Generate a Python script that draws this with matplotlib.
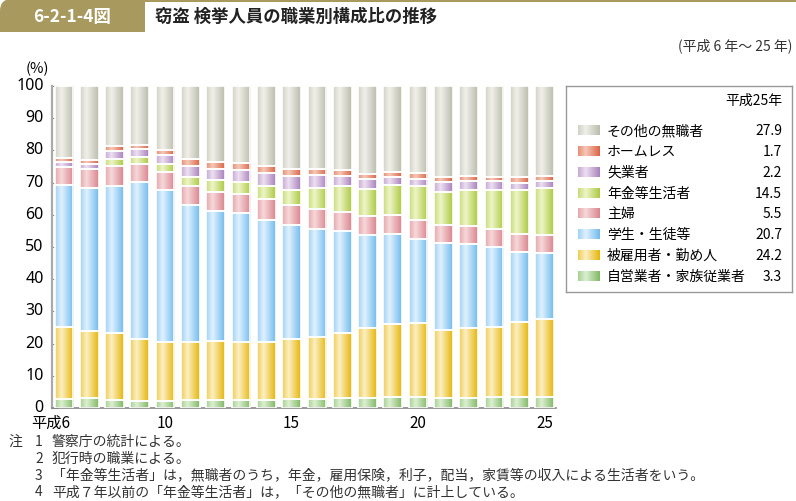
import numpy as np
import matplotlib
matplotlib.use("Agg")
import matplotlib.pyplot as plt
import matplotlib.transforms as mtransforms
from matplotlib.patches import FancyBboxPatch, Rectangle
from matplotlib.colors import to_rgb

plt.rcParams['font.family'] = ['Noto Sans CJK JP', 'DejaVu Sans']

years = list(range(6, 26))
series_names = ["自営業者・家族従業者", "被雇用者・勤め人", "学生・生徒等", "主婦",
                "年金等生活者", "失業者", "ホームレス", "その他の無職者"]
self_employed = [2.9, 3.2, 2.6, 2.3, 2.3, 2.5, 2.6, 2.6, 2.6, 2.7, 2.9, 3.1, 3.1, 3.3, 3.4, 3.2, 3.2, 3.4, 3.3, 3.3]
employed = [22.3, 20.7, 20.7, 19.2, 18.2, 18.0, 18.1, 17.9, 17.9, 18.8, 19.1, 20.1, 21.8, 22.8, 23.1, 21.1, 21.6, 21.8, 23.4, 24.2]
students = [44.2, 44.4, 45.7, 48.6, 47.3, 42.6, 40.4, 40.1, 37.9, 35.3, 33.5, 31.7, 28.7, 27.8, 25.9, 26.8, 26.1, 24.8, 21.7, 20.7]
housewives = [5.4, 5.8, 6.2, 5.7, 5.5, 5.8, 6.1, 6.0, 6.5, 6.2, 6.2, 6.1, 6.0, 5.9, 5.9, 5.6, 5.7, 5.7, 5.7, 5.5]
pension = [0.0, 0.0, 2.2, 2.1, 2.5, 2.7, 3.5, 3.7, 4.0, 4.8, 6.6, 7.9, 8.5, 9.5, 10.6, 10.4, 11.1, 12.0, 13.6, 14.5]
unemployed = [1.7, 1.7, 2.5, 2.5, 2.8, 3.6, 3.5, 3.6, 4.0, 4.1, 4.0, 3.1, 2.9, 2.3, 2.3, 3.0, 2.9, 2.9, 2.3, 2.2]
homeless = [1.1, 1.2, 1.4, 1.4, 1.6, 2.0, 2.2, 2.1, 2.2, 2.4, 2.0, 2.0, 1.8, 1.8, 1.8, 1.7, 1.6, 1.2, 1.6, 1.7]
other = [22.4, 23.0, 18.7, 18.2, 19.8, 22.8, 23.6, 24.0, 24.9, 25.7, 25.7, 26.0, 27.2, 26.6, 27.0, 28.2, 27.8, 28.2, 28.4, 27.9]
legend_values = ["3.3", "24.2", "20.7", "5.5", "14.5", "2.2", "1.7", "27.9"]
xtick_vals = [6, 10, 15, 20, 25]
xtick_labels = ["平成6", "10", "15", "20", "25"]

series = [self_employed, employed, students, housewives, pension, unemployed, homeless, other]
dark = ["#7cb65e", "#e4b300", "#6db8ec", "#d8808a", "#a9c73a", "#a67cb9", "#d9603f", "#b8baa9"]
light = ["#dcefd2", "#fcefc2", "#e0f1ff", "#f6d8da", "#eef5c8", "#ece0f1", "#f5c8b8", "#f0f0ea"]

W, H = 796, 502
fig = plt.figure(figsize=(W / 100, H / 100), dpi=100)

def grad_img(c0, c1, n=64):
    t = np.linspace(0, 1, n)
    f = np.where(t < 0.35, 0.45 + 0.55 * (t / 0.35), 1 - (t - 0.35) / 0.65 * 0.95)
    a = np.array(to_rgb(c0)); b = np.array(to_rgb(c1))
    img = a[None, :] + (b - a)[None, :] * f[:, None]
    return img[None, :, :]

# main axes
ax = fig.add_axes([52 / W, (H - 409) / H, 504 / W, 322 / H])
bottom = np.zeros(len(years))
for vals, c0, c1 in zip(series, dark, light):
    vals = np.array(vals)
    bars = ax.bar(years, vals, bottom=bottom, width=0.74, facecolor='none',
                  edgecolor='white', linewidth=1.2, zorder=3)
    img = grad_img(c0, c1)
    for p in bars:
        if p.get_height() <= 0:
            continue
        x0, y0 = p.get_x(), p.get_y()
        ax.imshow(img, extent=[x0, x0 + p.get_width(), y0, y0 + p.get_height()],
                  aspect='auto', zorder=2, interpolation='bilinear')
    bottom += vals

ax.set_xlim(5.53, 25.45)
ax.set_ylim(0, 100)
ax.set_yticks(range(0, 101, 10))
ax.set_xticks(xtick_vals)
ax.set_xticklabels(xtick_labels)
for s in ['top', 'right']:
    ax.spines[s].set_visible(False)
ax.spines['left'].set_color('#aaaaaa')
ax.spines['left'].set_linewidth(1.6)
ax.spines['bottom'].set_color('#888888')
ax.spines['bottom'].set_linewidth(1.2)
ax.tick_params(axis='y', direction='in', length=4, color='#888888', labelsize=11.5, pad=6)
ax.tick_params(axis='x', length=0, labelsize=11, pad=4)
lbl = ax.get_xticklabels()[0]
lbl.set_transform(lbl.get_transform() + mtransforms.ScaledTranslation(-0.13, 0, fig.dpi_scale_trans))
for yl in ax.get_yticklabels():
    yl.set_fontfamily(['Noto Sans', 'DejaVu Sans'])
    yl.set_transform(yl.get_transform() + mtransforms.ScaledTranslation(0, 0.03, fig.dpi_scale_trans))
fig.text(37 / W, 1 - 69 / H, "(%)", ha='center', va='center', fontsize=10.5)

# header
hb = FancyBboxPatch((0, H - 33), 145, 33, boxstyle="round,pad=0,rounding_size=12",
                    transform=None, facecolor='#a8995f', edgecolor='none')
fig.patches.append(hb)
fig.patches.append(Rectangle((0, H - 33), 145, 14, transform=None, facecolor='#a8995f', edgecolor='none'))
fig.patches.append(Rectangle((40, H - 33), 105, 33, transform=None, facecolor='#a8995f', edgecolor='none'))
fig.patches.append(Rectangle((145, H - 2.5), W - 145, 2.5, transform=None, facecolor='#a8995f', edgecolor='none'))
fig.text(72 / W, 1 - 17 / H, "6-2-1-4図", ha='center', va='center', fontsize=12.5,
         color='white', fontweight='bold')
fig.text(155 / W, 1 - 17 / H, "窃盗 検挙人員の職業別構成比の推移", ha='left', va='center',
         fontsize=12.5, fontweight='bold', color='#222222')
fig.text(792 / W, 1 - 46 / H, "(平成 6 年～ 25 年)", ha='right', va='center', fontsize=10, color='#333333')

# legend
lx0, ly0, lx1, ly1 = 566, 87, 792, 293
lax = fig.add_axes([lx0 / W, (H - ly1) / H, (lx1 - lx0) / W, (ly1 - ly0) / H])
lax.set_xticks([]); lax.set_yticks([])
for s in lax.spines.values():
    s.set_color('#999999'); s.set_linewidth(1.0)
lax.text(782, 101, "平成25年", ha='right', va='center', fontsize=10)
ys = np.linspace(131, 277, 8)
order = list(range(7, -1, -1))
for y, i in zip(ys, order):
    lax.imshow(grad_img(dark[i], light[i]), extent=[578, 600, y + 5, y - 5], aspect='auto',
               interpolation='bilinear')
    lax.text(607, y, series_names[i], ha='left', va='center', fontsize=10)
    lax.text(782, y, legend_values[i], ha='right', va='center', fontsize=10)
lax.set_xlim(lx0, lx1)
lax.set_ylim(ly1, ly0)

# notes
notes = ["警察庁の統計による。", "犯行時の職業による。",
         "「年金等生活者」は，無職者のうち，年金，雇用保険，利子，配当，家賃等の収入による生活者をいう。",
         "平成７年以前の「年金等生活者」は，「その他の無職者」に計上している。"]
fig.text(8 / W, 1 - 442 / H, "注", ha='left', va='center', fontsize=10, color='#333333')
for k, t in enumerate(notes):
    yy = 1 - (442 + 16.8 * k) / H
    fig.text(35 / W, yy, str(k + 1), ha='left', va='center', fontsize=10, color='#333333')
    fig.text(52 / W, yy, t, ha='left', va='center', fontsize=10, color='#333333')

fig.savefig("out.png", dpi=100)
